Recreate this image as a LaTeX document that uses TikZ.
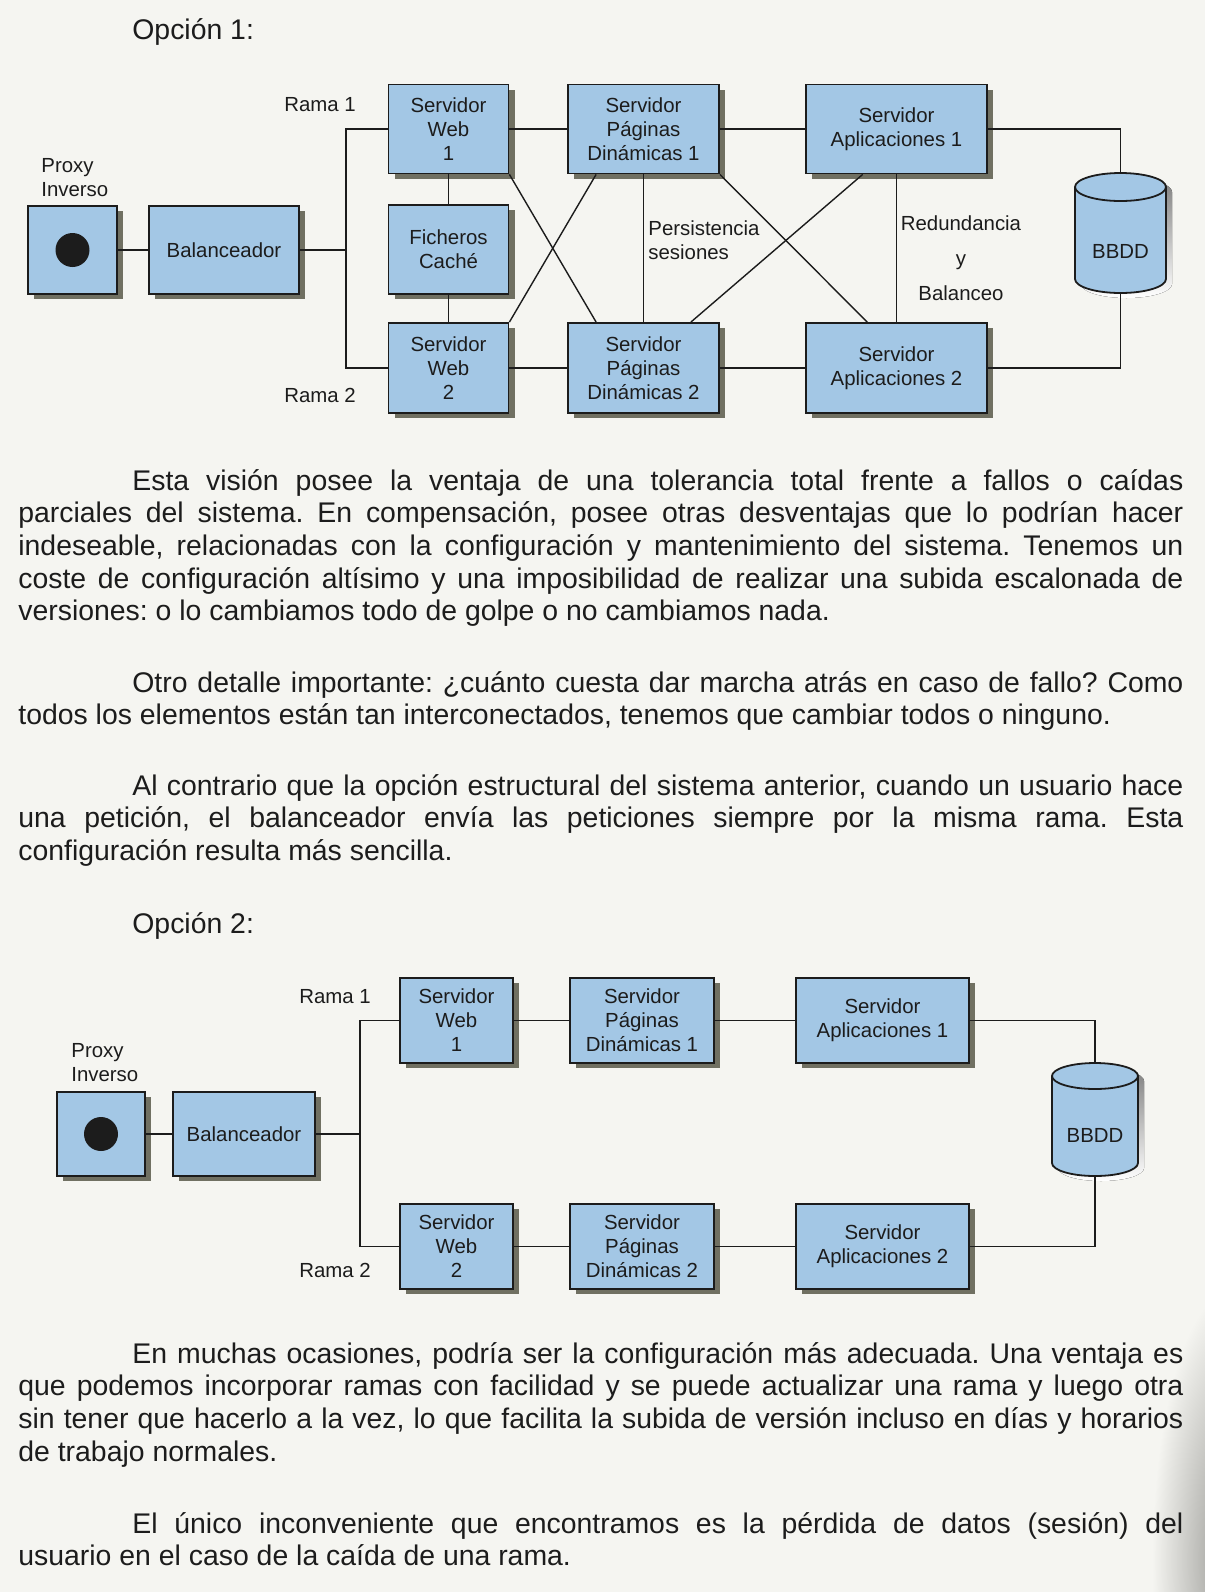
\documentclass[tikz,border=0pt]{standalone}
\usepackage{fontspec}
\setmainfont{Liberation Sans}
\usetikzlibrary{calc,shadows}
\definecolor{paper}{RGB}{245,245,241}
\definecolor{edgegray}{RGB}{150,150,146}
\definecolor{boxblue}{RGB}{163,199,229}
\definecolor{ink}{RGB}{28,28,28}
\definecolor{shade}{RGB}{112,112,98}
\newcommand\bodyfont{\fontsize{14.2pt}{16.35pt}\selectfont}
\newcommand\diagfont{\fontsize{10.2pt}{12pt}\selectfont}
\newlength\pw \setlength\pw{582.5pt}
\newcommand\fl[1]{\makebox[\pw][s]{#1}}
\newcommand\ind{\hspace*{57pt}}
\frenchspacing

\begin{document}
\begin{tikzpicture}[x=0.5pt,y=-0.5pt,
  srv/.style={draw=ink, line width=0.9pt, fill=boxblue, inner sep=0pt, align=center,
    font=\diagfont, text=ink,
    drop shadow={shadow xshift=3pt, shadow yshift=-2.5pt, fill=shade, opacity=1}},
  wire/.style={draw=ink, line width=0.7pt},
  lbl/.style={font=\diagfont, text=ink, inner sep=0pt},
  txt/.style={font=\bodyfont, text=ink, inner sep=0pt, anchor=base west},
  dot/.style={circle, fill=ink, minimum size=17pt, inner sep=0pt},
  cylbody/.style={fill=boxblue, draw=ink, line width=0.9pt},
]
\fill[paper] (0,0) rectangle (1205,1592);
% darker paper where the page curves towards the binding
\begin{scope}
  \clip (0,0) rectangle (1205,1592);
  \shade[inner color=edgegray, outer color=paper] (1232,1560) ellipse [x radius=80, y radius=270];
\end{scope}
\useasboundingbox (0,0) rectangle (1205,1592);

% ---------------- Option 1 ----------------
\node[txt] (opt1) at (132,39) {Opción 1:};

\node[srv, minimum width=44.5pt, minimum height=44pt] (proxyA) at (72.5,250) {};
\node[dot] (dotA) at (proxyA.center) {};
\node[lbl, anchor=west, align=left] (proxyAl) at (41,178) {Proxy\\Inverso};
\node[srv, minimum width=75pt, minimum height=44pt] (balA) at (224,250) {Balanceador};

\node[srv, minimum width=60pt, minimum height=44.5pt] (webA1) at (448.5,129) {Servidor\\Web\\1};
\node[srv, minimum width=60pt, minimum height=44.5pt] (cacheA) at (448.5,249.5) {Ficheros\\Caché};
\node[srv, minimum width=60pt, minimum height=45pt] (webA2) at (448.5,368) {Servidor\\Web\\2};
\node[srv, minimum width=75.5pt, minimum height=44.5pt] (pdA1) at (643.5,129) {Servidor\\Páginas\\Dinámicas 1};
\node[srv, minimum width=75.5pt, minimum height=45pt] (pdA2) at (643.5,368) {Servidor\\Páginas\\Dinámicas 2};
\node[srv, minimum width=90.5pt, minimum height=44.5pt] (appA1) at (896.5,129) {Servidor\\Aplicaciones 1};
\node[srv, minimum width=90.5pt, minimum height=45pt] (appA2) at (896.5,368) {Servidor\\Aplicaciones 2};

\node[lbl] (ramaA1) at (320,105) {Rama 1};
\node[lbl] (ramaA2) at (320,395) {Rama 2};
\node[lbl, anchor=west, align=left] (persA) at (648,240) {Persistencia\\sesiones};
\node[lbl, align=center, font=\fontsize{10.2pt}{17.5pt}\selectfont] (redA) at (961,258) {Redundancia\\y\\Balanceo};

% database cylinder
\begin{scope}[shift={(6,5)}]
  \fill[shade] (1075,187) -- (1075,279) arc[start angle=180,end angle=360,x radius=22.75pt,y radius=7pt]
    -- (1166,187) arc[start angle=0,end angle=180,x radius=22.75pt,y radius=7pt] -- cycle;
\end{scope}
\path[cylbody] (1075,187) -- (1075,279) arc[start angle=180,end angle=360,x radius=22.75pt,y radius=7pt]
  -- (1166,187) arc[start angle=0,end angle=180,x radius=22.75pt,y radius=7pt] -- cycle;
\draw[ink, line width=0.9pt] (1075,187) arc[start angle=180,end angle=360,x radius=22.75pt,y radius=7pt];
\node[inner sep=0pt, minimum width=45.5pt, minimum height=60pt] (dbA) at (1120.5,233) {};
\node[lbl] (dbAl) at (1120.5,251) {BBDD};

% connections
\coordinate (jA) at (346,250);
\draw[wire] (proxyA) -- (balA);
\draw[wire] (balA) -- (jA);
\draw[wire] (webA1.west) -| (jA) |- (webA2.west);
\draw[wire] (webA1) -- (cacheA) -- (webA2);
\draw[wire] (webA1) -- (pdA1);
\draw[wire] (webA2) -- (pdA2);
\draw[wire] (pdA1) -- (appA1);
\draw[wire] (pdA2) -- (appA2);
\draw[wire] (pdA1) -- (pdA2);
\draw[wire] (appA1) -- (appA2);
\draw[wire] (webA1.south east) -- ($(pdA2.north west)!0.19!(pdA2.north east)$);
\draw[wire] (webA2.north east) -- ($(pdA1.south west)!0.19!(pdA1.south east)$);
\draw[wire] (pdA1.south east) -- ($(appA2.north west)!0.34!(appA2.north east)$);
\draw[wire] ($(pdA2.north west)!0.81!(pdA2.north east)$) -- ($(appA1.south west)!0.315!(appA1.south east)$);
\draw[wire] (appA1) -| (dbA.north);
\draw[wire] (dbA.south) |- (appA2);

% ---------------- text ----------------
\node[txt] (p1a) at (18,490) {\fl{\ind Esta visión posee la ventaja de una tolerancia total frente a fallos o caídas}};
\node[txt] (p1b) at (18,522.7) {\fl{parciales del sistema. En compensación, posee otras desventajas que lo podrían hacer}};
\node[txt] (p1c) at (18,555.4) {\fl{indeseable, relacionadas con la configuración y mantenimiento del sistema. Tenemos un}};
\node[txt] (p1d) at (18,588.1) {\fl{coste de configuración altísimo y una imposibilidad de realizar una subida escalonada de}};
\node[txt] (p1e) at (18,620.8) {versiones: o lo cambiamos todo de golpe o no cambiamos nada.};

\node[txt] (p2a) at (18,692) {\fl{\ind Otro detalle importante: ¿cuánto cuesta dar marcha atrás en caso de fallo? Como}};
\node[txt] (p2b) at (18,724.7) {todos los elementos están tan interconectados, tenemos que cambiar todos o ninguno.};

\node[txt] (p3a) at (18,795) {\fl{\ind Al contrario que la opción estructural del sistema anterior, cuando un usuario hace}};
\node[txt] (p3b) at (18,827.7) {\fl{una petición, el balanceador envía las peticiones siempre por la misma rama. Esta}};
\node[txt] (p3c) at (18,860.4) {configuración resulta más sencilla.};

% ---------------- Option 2 ----------------
\node[txt] (opt2) at (132,933) {Opción 2:};

\node[srv, minimum width=44pt, minimum height=42pt] (proxyB) at (101,1134) {};
\node[dot] (dotB) at (proxyB.center) {};
\node[lbl, anchor=west, align=left] (proxyBl) at (71,1063) {Proxy\\Inverso};
\node[srv, minimum width=71pt, minimum height=42pt] (balB) at (244,1134) {Balanceador};

\node[srv, minimum width=56.5pt, minimum height=42.5pt] (webB1) at (456.5,1020.5) {Servidor\\Web\\1};
\node[srv, minimum width=56.5pt, minimum height=42.5pt] (webB2) at (456.5,1246.5) {Servidor\\Web\\2};
\node[srv, minimum width=72pt, minimum height=42.5pt] (pdB1) at (642,1020.5) {Servidor\\Páginas\\Dinámicas 1};
\node[srv, minimum width=72pt, minimum height=42.5pt] (pdB2) at (642,1246.5) {Servidor\\Páginas\\Dinámicas 2};
\node[srv, minimum width=86.5pt, minimum height=42.5pt] (appB1) at (882.5,1020.5) {Servidor\\Aplicaciones 1};
\node[srv, minimum width=86.5pt, minimum height=42.5pt] (appB2) at (882.5,1246.5) {Servidor\\Aplicaciones 2};

\node[lbl] (ramaB1) at (335,997) {Rama 1};
\node[lbl] (ramaB2) at (335,1270) {Rama 2};

\begin{scope}[shift={(6,5)}]
  \fill[shade] (1052,1076) -- (1052,1163) arc[start angle=180,end angle=360,x radius=21.5pt,y radius=6.5pt]
    -- (1138,1076) arc[start angle=0,end angle=180,x radius=21.5pt,y radius=6.5pt] -- cycle;
\end{scope}
\path[cylbody] (1052,1076) -- (1052,1163) arc[start angle=180,end angle=360,x radius=21.5pt,y radius=6.5pt]
  -- (1138,1076) arc[start angle=0,end angle=180,x radius=21.5pt,y radius=6.5pt] -- cycle;
\draw[ink, line width=0.9pt] (1052,1076) arc[start angle=180,end angle=360,x radius=21.5pt,y radius=6.5pt];
\node[inner sep=0pt, minimum width=43pt, minimum height=56.5pt] (dbB) at (1095,1119.5) {};
\node[lbl] (dbBl) at (1095,1135) {BBDD};

\coordinate (jB) at (360,1134);
\draw[wire] (proxyB) -- (balB);
\draw[wire] (balB) -- (jB);
\draw[wire] (webB1.west) -| (jB) |- (webB2.west);
\draw[wire] (webB1) -- (pdB1);
\draw[wire] (webB2) -- (pdB2);
\draw[wire] (pdB1) -- (appB1);
\draw[wire] (pdB2) -- (appB2);
\draw[wire] (appB1) -| (dbB.north);
\draw[wire] (dbB.south) |- (appB2);

% ---------------- text ----------------
\node[txt] (p4a) at (18,1363) {\fl{\ind En muchas ocasiones, podría ser la configuración más adecuada. Una ventaja es}};
\node[txt] (p4b) at (18,1395.7) {\fl{que podemos incorporar ramas con facilidad y se puede actualizar una rama y luego otra}};
\node[txt] (p4c) at (18,1428.4) {\fl{sin tener que hacerlo a la vez, lo que facilita la subida de versión incluso en días y horarios}};
\node[txt] (p4d) at (18,1461.1) {de trabajo normales.};

\node[txt] (p5a) at (18,1533) {\fl{\ind El único inconveniente que encontramos es la pérdida de datos (sesión) del}};
\node[txt] (p5b) at (18,1565.7) {usuario en el caso de la caída de una rama.};
\end{tikzpicture}
\end{document}
